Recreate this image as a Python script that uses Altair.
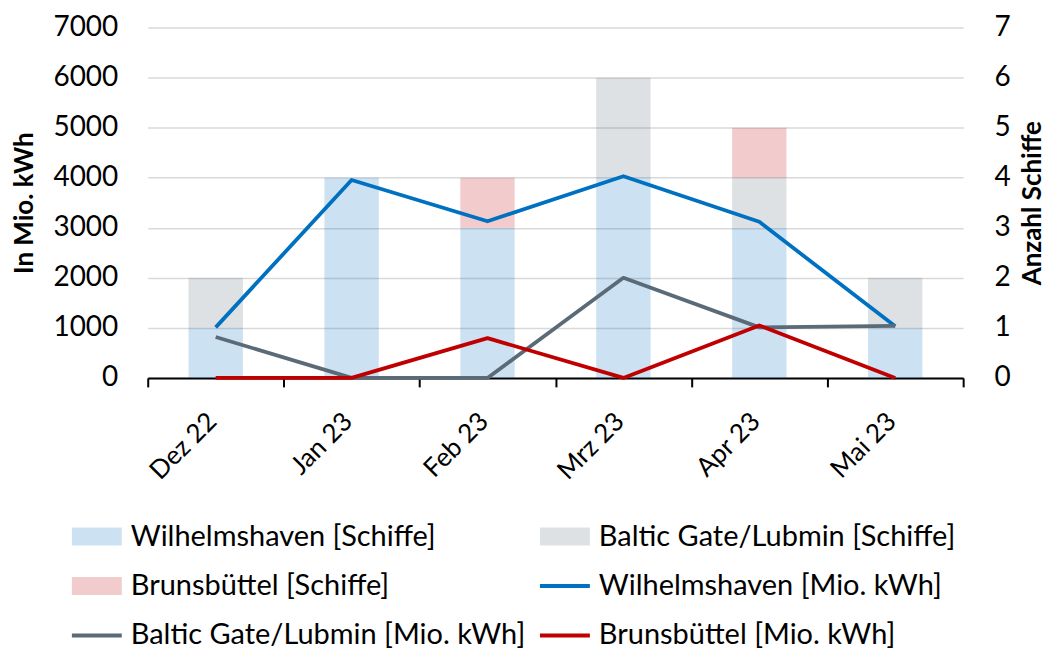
import altair as alt
import pandas as pd

months = ["Dez 22", "Jan 23", "Feb 23", "Mrz 23", "Apr 23", "Mai 23"]

ships_wilhelmshaven = [1, 4, 3, 4, 3, 1]
ships_baltic = [1, 0, 0, 2, 1, 1]
ships_brunsbuettel = [0, 0, 1, 0, 1, 0]

kwh_wilhelmshaven = [1010, 3955, 3130, 4030, 3120, 1030]
kwh_baltic = [818, 0, 0, 2000, 1010, 1040]
kwh_brunsbuettel = [0, 0, 795, 0, 1048, 0]

bar_names = ["Wilhelmshaven [Schiffe]", "Baltic Gate/Lubmin [Schiffe]", "Brunsbüttel [Schiffe]"]
line_names = ["Wilhelmshaven [Mio. kWh]", "Baltic Gate/Lubmin [Mio. kWh]", "Brunsbüttel [Mio. kWh]"]
series_colors = ["#0070c0", "#5b6a77", "#c00000"]

FONT = "Lato"
FS_Y = 28
FS_X = 26
FS_T = 26
FS_L = 29

bar_rows = []
for k, (name, vals) in enumerate(zip(bar_names, [ships_wilhelmshaven, ships_baltic, ships_brunsbuettel])):
    for m, v in zip(months, vals):
        bar_rows.append({"month": m, "series": name, "ships": v, "order": k})
bars_df = pd.DataFrame(bar_rows)

line_rows = []
for name, vals in zip(line_names, [kwh_wilhelmshaven, kwh_baltic, kwh_brunsbuettel]):
    for m, v in zip(months, vals):
        line_rows.append({"month": m, "series": name, "kwh": v})
lines_df = pd.DataFrame(line_rows)

bar_color = alt.Scale(domain=bar_names, range=series_colors)
line_color = alt.Scale(domain=line_names, range=series_colors)

x_axis = alt.Axis(
    title=None, labelAngle=-45, labelFontSize=FS_X, labelFont=FONT, labelColor="black",
    tickBand="extent", tickSize=9, tickWidth=2, tickColor="black", labelOffset=-13,
    domainColor="black", domainWidth=2, labelPadding=21, grid=False,
)

bars = alt.Chart(bars_df).mark_bar(width=alt.RelativeBandSize(0.4), opacity=0.2).encode(
    x=alt.X("month:N", sort=months, scale=alt.Scale(paddingInner=0, paddingOuter=0), axis=x_axis),
    y=alt.Y("ships:Q", stack="zero", scale=alt.Scale(domain=[0, 7], nice=False),
            axis=alt.Axis(orient="right", title="Anzahl Schiffe", values=list(range(8)), format="d",
                          grid=False, ticks=False, domain=False, labelFontSize=FS_Y, labelFont=FONT,
                          labelColor="black", labelPadding=31, titleFontSize=FS_T, titleFont=FONT,
                          titleFontWeight="bold", titleColor="black", titleAngle=270,
                          titleBaseline="top", titlePadding=9)),
    color=alt.Color("series:N", scale=bar_color, legend=None),
    order=alt.Order("order:Q"),
)

lines = alt.Chart(lines_df).mark_line(strokeWidth=3.8, strokeJoin="round").encode(
    x=alt.X("month:N", sort=months, bandPosition=0.5),
    y=alt.Y("kwh:Q", scale=alt.Scale(domain=[0, 7000], nice=False),
            axis=alt.Axis(orient="left", title="In Mio. kWh", values=list(range(0, 7001, 1000)),
                          format="d", grid=True, gridColor="#d9d9d9", gridWidth=1.5, ticks=False,
                          domain=False, labelFontSize=FS_Y, labelFont=FONT, labelColor="black",
                          labelPadding=30, titleFontSize=FS_T, titleFont=FONT, titleFontWeight="bold",
                          titleColor="black", titlePadding=15)),
    color=alt.Color("series:N", scale=line_color, legend=None),
    detail="series:N",
)

main = alt.layer(bars, lines).resolve_scale(y="independent", color="independent").properties(
    width=817, height=351
)

# legend built as a small chart
legend_names = [bar_names[0], bar_names[1], bar_names[2], line_names[0], line_names[1], line_names[2]]
legend_kind = ["bar", "bar", "bar", "line", "line", "line"]
legend_colors = [series_colors[0], series_colors[1], series_colors[2],
                 series_colors[0], series_colors[1], series_colors[2]]
leg_df = pd.DataFrame({
    "label": legend_names,
    "kind": legend_kind,
    "color": legend_colors,
    "col": [i % 2 for i in range(6)],
    "row": [i // 2 for i in range(6)],
})

lx = alt.X("col:Q", scale=alt.Scale(domain=[0, 1], range=[-76, 393]), axis=None)
ly = alt.Y("row:Q", scale=alt.Scale(domain=[0, 2], range=[22, 121]), axis=None)

rect_path = "M-1,-0.36L1,-0.36L1,0.36L-1,0.36Z"
stroke_path = "M-1,-0.08L1,-0.08L1,0.08L-1,0.08Z"

leg_bar = alt.Chart(leg_df).transform_filter("datum.kind == 'bar'").mark_point(
    shape=rect_path, filled=True, size=2500, opacity=0.2, xOffset=25, strokeWidth=0
).encode(x=lx, y=ly, color=alt.Color("color:N", scale=None))

leg_line = alt.Chart(leg_df).transform_filter("datum.kind == 'line'").mark_point(
    shape=stroke_path, filled=True, size=2500, opacity=1, xOffset=25, strokeWidth=0
).encode(x=lx, y=ly, color=alt.Color("color:N", scale=None))

leg_text = alt.Chart(leg_df).mark_text(
    align="left", baseline="middle", dx=59, fontSize=FS_L, font=FONT, color="black"
).encode(x=lx, y=ly, text="label:N")

legend = alt.layer(leg_bar, leg_line, leg_text).properties(width=817, height=121)

chart = alt.vconcat(main, legend, spacing=30).properties(
    padding={"left": 4, "top": 5, "right": 0, "bottom": 2}
).configure(font=FONT, view=alt.ViewConfig(stroke=None))

chart.save("out.html", embed_options={"renderer": "svg", "actions": False})
